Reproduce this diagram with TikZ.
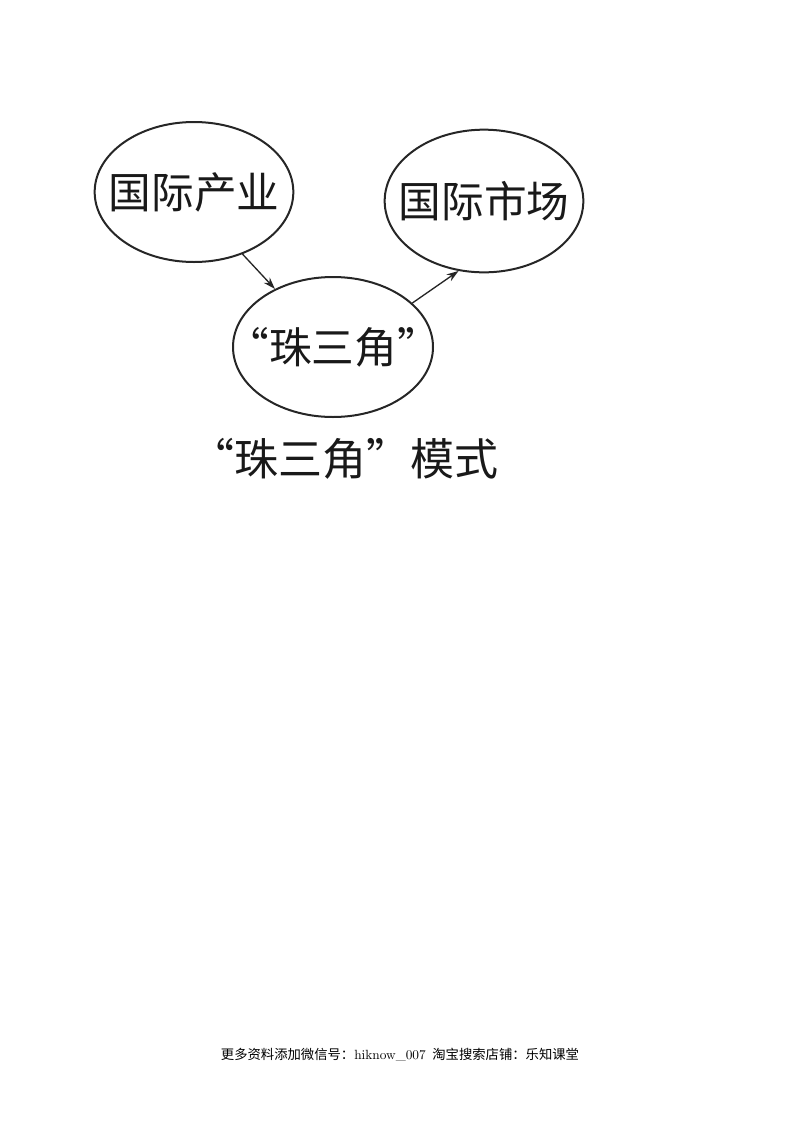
\documentclass[tikz,border=0pt]{standalone}
\usepackage{fontspec}
\newfontfamily\cjk{Noto Sans CJK SC}
\usetikzlibrary{shapes.geometric,arrows.meta}
\begin{document}
\begin{tikzpicture}[x=0.75pt,y=-0.75pt,
  bubble/.style={draw=black!85,line width=1.5pt,ellipse,inner sep=-50pt,
    minimum width=149pt,minimum height=105pt,
    font=\cjk\fontsize{32}{32}\selectfont,text=black!90},
  link/.style={draw=black!85,line width=1pt,-{Stealth[length=9pt,width=6pt]}},
  caption/.style={font=\cjk\fontsize{33}{33}\selectfont,text=black!90},
  foot/.style={font=\cjk\fontsize{10}{10}\selectfont}]
\useasboundingbox (0,0) rectangle (800,1132);
\node[bubble] (L) at (194,192) {国际产业};
\node[bubble,minimum height=107pt] (R) at (484,201) {国际市场};
\node[bubble,minimum width=150pt] (M) at (333,347) {“珠三角”};
\draw[link] (L.-52) -- (M.135);
\draw[link] (M.29) -- (R.250);
\node[caption] (cap) at (344,459) {“珠三角”模式};
\node[foot] (ft) at (400,1055) {更多资料添加微信号：{\rmfamily hiknow\_007}\enspace 淘宝搜索店铺：乐知课堂};
\end{tikzpicture}
\end{document}
